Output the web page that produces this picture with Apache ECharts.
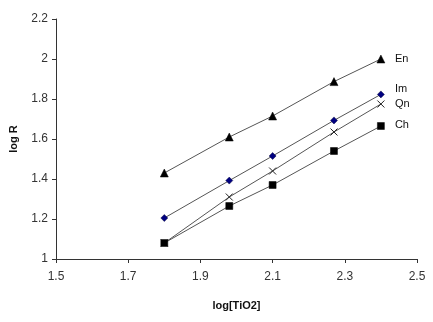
<!DOCTYPE html>
<html>
<head>
<meta charset="utf-8">
<script src="https://cdn.jsdelivr.net/npm/echarts@6/dist/echarts.min.js"></script>
<style>
  html, body { margin: 0; padding: 0; background: #fff; }
  #chart { width: 433px; height: 322px; }
</style>
</head>
<body>
<div id="chart"></div>
<script>
// log[TiO2] values shared by all series
const logTiO2 = [1.8, 1.98, 2.1, 2.27, 2.4];
// log R per series
const enValues = [1.43, 1.61, 1.715, 1.887, 2.0];
const imValues = [1.205, 1.392, 1.515, 1.693, 1.823];
const qnValues = [1.08, 1.31, 1.44, 1.635, 1.775];
const chValues = [1.08, 1.265, 1.37, 1.54, 1.665];
const xTicks = [1.5, 1.7, 1.9, 2.1, 2.3, 2.5];
const yTicks = [1, 1.2, 1.4, 1.6, 1.8, 2, 2.2];

const pairs = (ys) => ys.map((y, i) => [logTiO2[i], y]);

const FONT = 'Liberation Sans, Arial, sans-serif';
const crossPath = 'path://M0,0L10,10M10,0L0,10';

function makeSeries(name, values, symbol, size, color, labelOffset) {
  return {
    name,
    type: 'line',
    data: pairs(values),
    symbol,
    symbolSize: size,
    lineStyle: { color: '#555', width: 1 },
    itemStyle: symbol === crossPath
      ? { color: 'none', borderColor: '#222', borderWidth: 1 }
      : { color, borderColor: color === '#000' ? '#000' : '#0a0a40', borderWidth: 0.5 },
    endLabel: {
      show: true,
      formatter: name,
      color: '#111',
      fontFamily: FONT,
      fontSize: 11,
      offset: labelOffset,
    },
    animation: false,
    z: 2,
  };
}

const option = {
  animation: false,
  grid: { left: 53, right: 16, top: 19, bottom: 63 },
  xAxis: {
    type: 'value',
    min: 1.5,
    max: 2.5,
    interval: 0.2,
    name: 'log[TiO2]',
    nameLocation: 'middle',
    nameGap: 41,
    nameTextStyle: { fontFamily: FONT, fontSize: 11, fontWeight: 'bold', color: '#111' },
    axisLine: { show: true, lineStyle: { color: '#333', width: 1 } },
    axisTick: { show: true, inside: false, length: 4, lineStyle: { color: '#333' } },
    axisLabel: {
      fontFamily: FONT, fontSize: 12, color: '#333', margin: 12,
      formatter: (v) => String(xTicks.find((t) => Math.abs(t - v) < 1e-6) ?? v),
    },
    splitLine: { show: false },
  },
  yAxis: {
    type: 'value',
    min: 1,
    max: 2.2,
    interval: 0.2,
    name: 'log R',
    nameLocation: 'middle',
    nameGap: 37,
    nameRotate: 90,
    nameTextStyle: { fontFamily: FONT, fontSize: 11, fontWeight: 'bold', color: '#111' },
    axisLine: { show: true, lineStyle: { color: '#333', width: 1 } },
    axisTick: { show: true, inside: false, length: 4, lineStyle: { color: '#333' } },
    axisLabel: {
      fontFamily: FONT, fontSize: 12, color: '#333', margin: 8,
      formatter: (v) => String(yTicks.find((t) => Math.abs(t - v) < 1e-6) ?? v),
    },
    splitLine: { show: false },
  },
  series: [
    makeSeries('En', enValues, 'triangle', 8, '#000', [6, 0]),
    makeSeries('Im', imValues, 'diamond', 7, '#000080', [6, -5]),
    makeSeries('Qn', qnValues, crossPath, 7, '#000', [6, 0]),
    makeSeries('Ch', chValues, 'rect', 7, '#000', [6, -1]),
  ],
};

const myChart = echarts.init(document.getElementById('chart'), null, { renderer: 'canvas' });
myChart.setOption(option);
</script>
</body>
</html>
